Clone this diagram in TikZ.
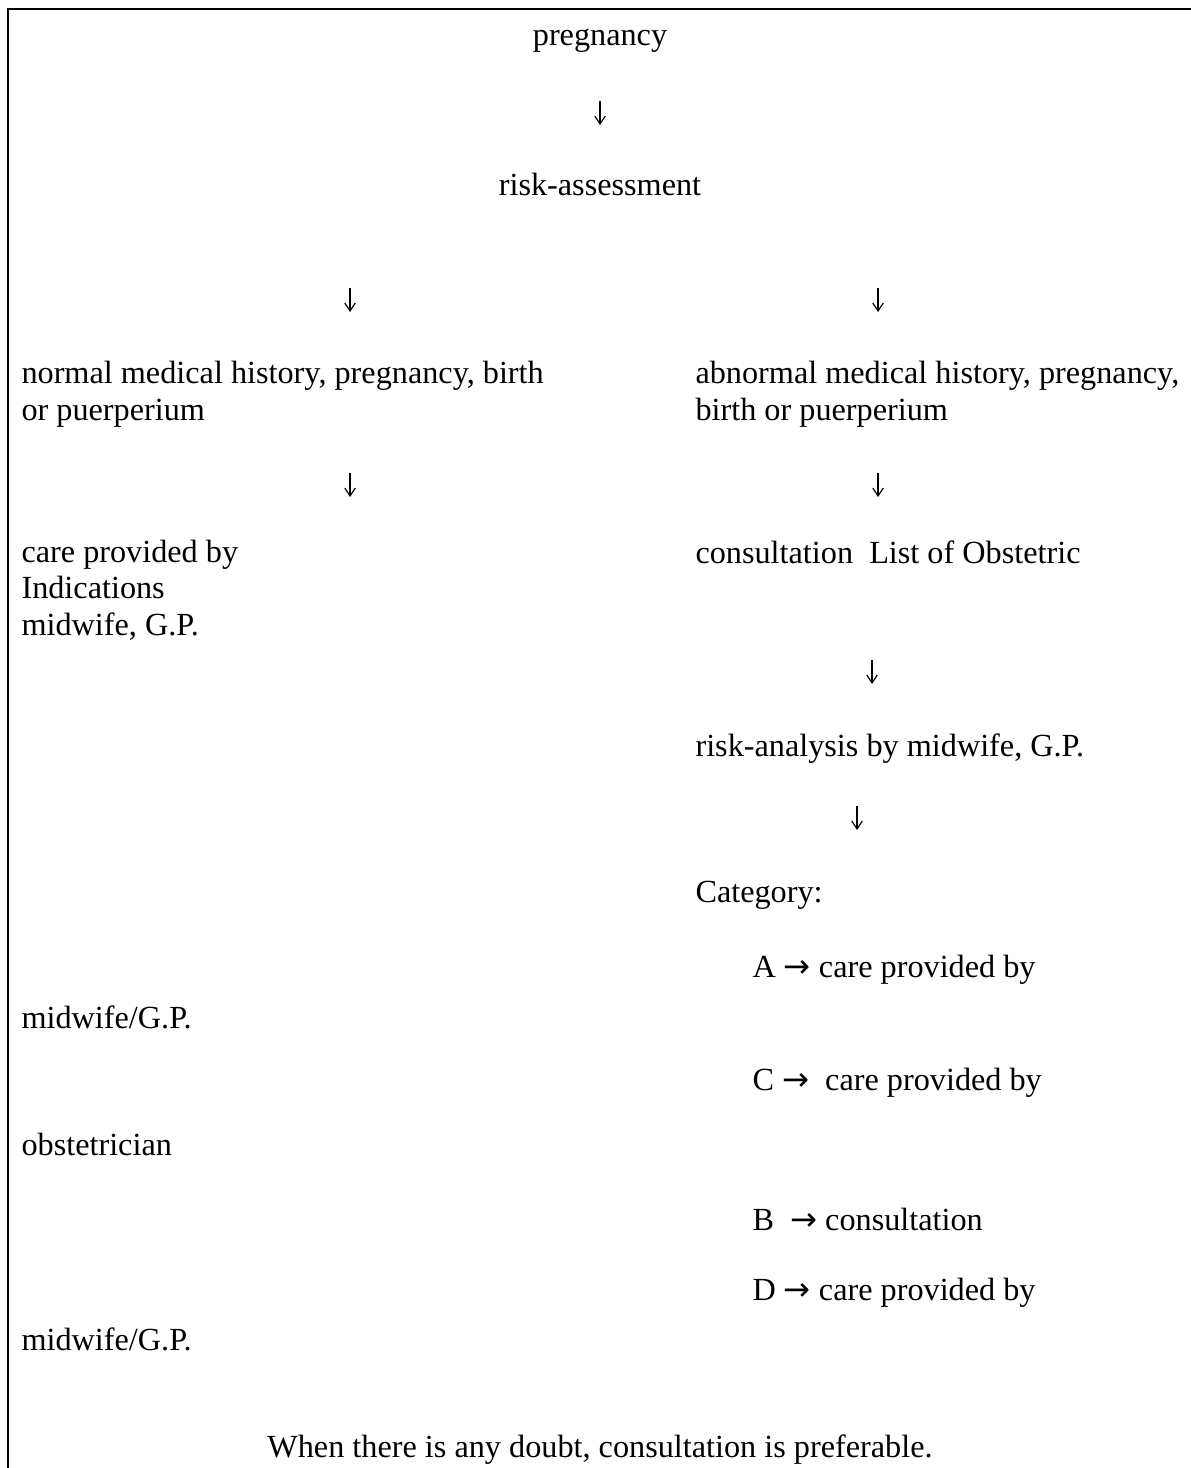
\documentclass[tikz,border=0pt]{standalone}
\usepackage{fontspec}
\setmainfont{Liberation Serif}
\newfontfamily\arrowfont{DejaVu Sans}
\usetikzlibrary{arrows.meta}

\newcommand{\rarr}{{\arrowfont →}}

\begin{document}
\begin{tikzpicture}[x=0.38pt, y=-0.38pt, >={Straight Barb[length=3pt,width=4pt]},
  txt/.style={inner sep=0pt, anchor=base west, align=left, font=\fontsize{12.25}{13.7}\selectfont},
  ctxt/.style={txt, anchor=base},
  arr/.style={->, line width=0.45pt}]
  \useasboundingbox (0,0) rectangle (1191,1468);
  % frame
  \draw[line width=0.8pt] (8,1468) -- (8,9) -- (1191,9);

  % top
  \node[ctxt] (preg) at (600,46) {pregnancy};
  \node[ctxt] (risk) at (600,196) {risk-assessment};

  % normal branch (base = last line)
  \node[txt] (normal) at (21,420) {normal medical history, pregnancy, birth\\or puerperium};
  \node[txt] (carenorm) at (21,635) {care provided by\\Indications\\midwife, G.P.};

  % abnormal branch
  \node[txt] (abnormal) at (695,420) {abnormal medical history, pregnancy,\\birth or puerperium};
  \node[txt] (consult) at (695,563) {consultation\ \ List of Obstetric};
  \node[txt] (analysis) at (695,756) {risk-analysis by midwife, G.P.};
  \node[txt] (category) at (695,902) {Category:};

  % categories
  \node[txt] (catA) at (752,977) {A \rarr{} care provided by};
  \node[txt] (mwA) at (21,1028) {midwife/G.P.};
  \node[txt] (catC) at (752,1090) {C \rarr\ \ care provided by};
  \node[txt] (obst) at (21,1155) {obstetrician};
  \node[txt] (catB) at (752,1230) {B\ \ \rarr{} consultation};
  \node[txt] (catD) at (752,1300) {D \rarr{} care provided by};
  \node[txt] (mwD) at (21,1350) {midwife/G.P.};

  \node[ctxt] (doubt) at (600,1457) {When there is any doubt, consultation is preferable.};

  % arrows
  \coordinate (a1s) at (600,101); \coordinate (a1e) at (600,125);
  \coordinate (a2s) at (350,288); \coordinate (a2e) at (350,312);
  \coordinate (a3s) at (878,288); \coordinate (a3e) at (878,312);
  \coordinate (a4s) at (350,473); \coordinate (a4e) at (350,497);
  \coordinate (a5s) at (878,473); \coordinate (a5e) at (878,497);
  \coordinate (a6s) at (872,660); \coordinate (a6e) at (872,684);
  \coordinate (a7s) at (857,806); \coordinate (a7e) at (857,830);
  \foreach \i in {1,...,7}
    \draw[arr] (a\i s) -- (a\i e);
\end{tikzpicture}
\end{document}
